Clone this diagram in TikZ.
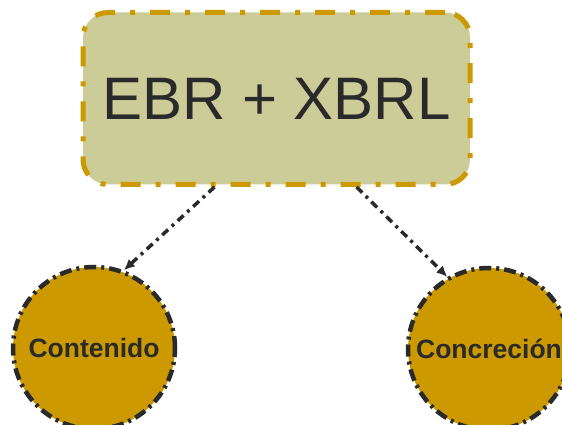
\documentclass[tikz,border=0pt]{standalone}
\usepackage{fontspec}
\setmainfont{Liberation Sans}
\usetikzlibrary{arrows.meta}
\definecolor{olivefill}{HTML}{CCCC99}
\definecolor{gold}{HTML}{CC9900}
\definecolor{ink}{HTML}{2A2A2A}
\begin{document}
\begin{tikzpicture}[x=1pt, y=1pt,
      mainbox/.style={draw=gold, fill=olivefill, line width=5pt, rounded corners=25pt,
        dash pattern=on 20pt off 15pt on 5pt off 15pt,
        minimum width=387pt, minimum height=172pt, inner sep=0pt,
        text=ink, font=\fontsize{60}{72}\selectfont},
      topic/.style={circle, draw=ink, fill=gold, line width=4.5pt,
        dash pattern=on 12pt off 5pt on 3pt off 5pt,
        minimum size=162pt, inner sep=0pt,
        text=ink, font=\bfseries\fontsize{26.5}{30}\selectfont},
      arrow/.style={-{Latex[length=11pt, width=10pt]}, draw=ink, line width=3.5pt,
        dash pattern=on 8pt off 5pt on 3pt off 5pt},
    ]
    \useasboundingbox (0,0) rectangle (562,425);
    \node[mainbox] (ebr) at (276.5, 326.5) {EBR + XBRL};
    \node[topic] (cont) at (94, 77) {Contenido};
    \node[topic] (conc) at (489, 76) {Concreción};
    \draw[arrow] ([xshift=-62pt]ebr.south) -- (cont.69);
    \draw[arrow] ([xshift=80pt]ebr.south) -- (conc.120);
  \end{tikzpicture}
\end{document}
